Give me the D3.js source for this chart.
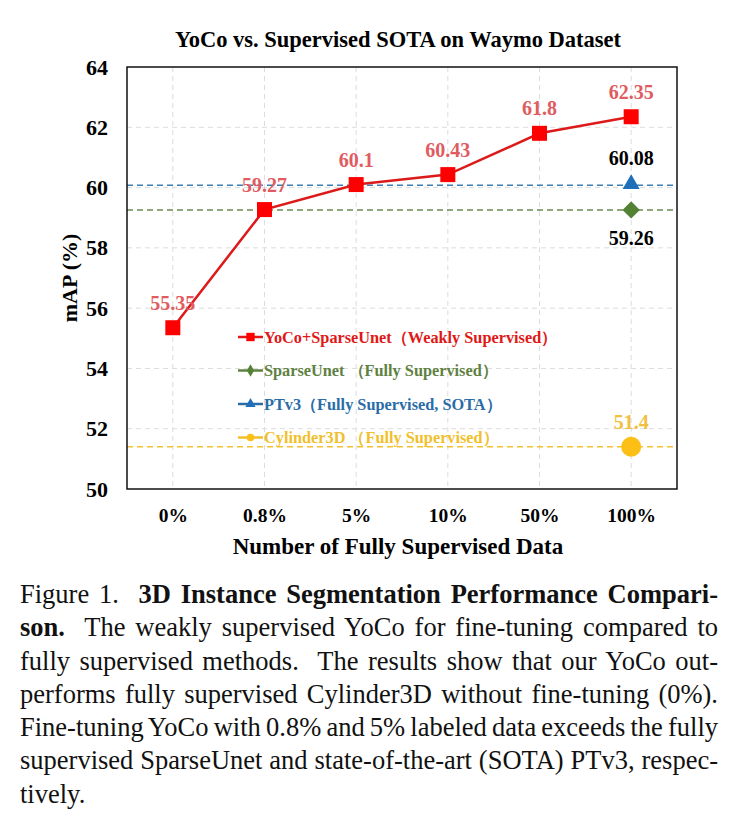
<!DOCTYPE html>
<html>
<head>
<meta charset="utf-8">
<script src="https://cdn.jsdelivr.net/npm/d3@7"></script>
<style>
    body { margin: 0; background: #fff; width: 738px; height: 823px; overflow: hidden; }
    #chart { position: absolute; left: 0; top: 0; }
    #caption { position: absolute; left: 20px; top: 578px; width: 698px; font-size: 26.5px;
               line-height: 33.3px; color: #111; }
    #caption div { white-space: pre; }
</style>
</head>
<body>
<div id="chart"></div>
<div id="caption"></div>
<script>
const categories = ['0%', '0.8%', '5%', '10%', '50%', '100%'];
const yocoValues = [55.35, 59.27, 60.1, 60.43, 61.8, 62.35];
const sparseUnetValue = 59.26;
const ptv3Value = 60.08;
const cylinderValue = 51.4;
const yTicks = [50, 52, 54, 56, 58, 60, 62, 64];
const legendLabels = [
    'YoCo+SparseUnet（Weakly Supervised）',
    'SparseUnet （Fully Supervised）',
    'PTv3（Fully Supervised, SOTA）',
    'Cylinder3D （Fully Supervised）'
];
const captionLines = [
    ['Figure 1.  ', '<b>3D Instance Segmentation Performance Compari-</b>'],
    ['<b>son.</b>', '  The weakly supervised YoCo for fine-tuning compared to'],
    ['fully supervised methods.', '  The results show that our YoCo out-'],
    ['performs fully supervised Cylinder3D without fine-tuning (0%).'],
    ['Fine-tuning YoCo with 0.8% and 5% labeled data exceeds the fully'],
    ['supervised SparseUnet and state-of-the-art (SOTA) PTv3, respec-'],
    ['tively.']
];

const serif = "'Liberation Serif'";
d3.select('body').style('font-family', serif);

let margin = {top: 67, right: 61, bottom: 81, left: 127};
let width = 738 - margin.left - margin.right;
let height = 570 - margin.top - margin.bottom;
let centerX = 398;

let svg = d3.select('#chart').append('svg')
    .attr('width', 738)
    .attr('height', 570)
    .style('font-family', serif);

svg.append('text')
    .attr('x', centerX)
    .attr('y', 47)
    .attr('text-anchor', 'middle')
    .style('font-weight', 'bold')
    .style('font-size', '22.5px')
    .text('YoCo vs. Supervised SOTA on Waymo Dataset');

let g = svg.append('g')
    .attr('transform', 'translate(' + margin.left + ',' + margin.top + ')');

let x = d3.scalePoint().domain(categories).range([0, width]).padding(0.5);
let y = d3.scaleLinear().domain([50, 64]).range([height, 0]);

// grid
g.selectAll('.vgrid').data(categories).enter().append('line')
    .attr('x1', d => x(d)).attr('x2', d => x(d))
    .attr('y1', 0).attr('y2', height)
    .attr('stroke', '#dcdcdc').attr('stroke-dasharray', '5,4');
g.selectAll('.hgrid').data(yTicks.slice(1, -1)).enter().append('line')
    .attr('x1', 0).attr('x2', width)
    .attr('y1', d => y(d)).attr('y2', d => y(d))
    .attr('stroke', '#dcdcdc').attr('stroke-dasharray', '5,4');

// reference lines for fully supervised methods
let refs = [
    {v: ptv3Value, c: '#3d7fb5'},
    {v: sparseUnetValue, c: '#6b8a52'},
    {v: cylinderValue, c: '#f2c232'}
];
g.selectAll('.ref').data(refs).enter().append('line')
    .attr('x1', 0).attr('x2', width)
    .attr('y1', d => y(d.v)).attr('y2', d => y(d.v))
    .attr('stroke', d => d.c).attr('stroke-width', 1.5).attr('stroke-dasharray', '6,4');

// axes
let yAxis = g.append('g')
    .call(d3.axisLeft(y).tickValues(yTicks).tickSize(0).tickPadding(19));
yAxis.attr('font-family', null);
yAxis.select('.domain').remove();
yAxis.selectAll('text').style('font-size', '22px').style('font-weight', 'bold')
    .style('font-family', serif).attr('fill', '#000');

let xAxis = g.append('g')
    .attr('transform', 'translate(0,' + height + ')')
    .call(d3.axisBottom(x).tickSize(0).tickPadding(19.5));
xAxis.attr('font-family', null);
xAxis.select('.domain').remove();
xAxis.selectAll('text').style('font-size', '19.5px').style('font-weight', 'bold')
    .style('font-family', serif).attr('fill', '#000');

// border
g.append('rect')
    .attr('width', width).attr('height', height)
    .attr('fill', 'none').attr('stroke', '#111').attr('stroke-width', 1.5);

// axis titles
svg.append('text')
    .attr('transform', 'translate(77,' + (margin.top + height / 2) + ') rotate(-90)')
    .attr('text-anchor', 'middle')
    .style('font-weight', 'bold').style('font-size', '22px')
    .text('mAP (%)');
svg.append('text')
    .attr('x', centerX)
    .attr('y', 554)
    .attr('text-anchor', 'middle')
    .style('font-weight', 'bold').style('font-size', '23px')
    .text('Number of Fully Supervised Data');

// YoCo line
let line = d3.line()
    .x((d, i) => x(categories[i]))
    .y(d => y(d));
g.append('path')
    .datum(yocoValues)
    .attr('d', line)
    .attr('fill', 'none')
    .attr('stroke', '#dc1a1a')
    .attr('stroke-width', 2.5);
g.selectAll('.sq').data(yocoValues).enter().append('rect')
    .attr('x', (d, i) => x(categories[i]) - 7.5)
    .attr('y', d => y(d) - 7.5)
    .attr('width', 15).attr('height', 15)
    .attr('fill', '#ff0000');
g.selectAll('.lbl').data(yocoValues).enter().append('text')
    .attr('x', (d, i) => x(categories[i]))
    .attr('y', d => y(d) - 18)
    .attr('text-anchor', 'middle')
    .style('font-weight', 'bold').style('font-size', '20px')
    .attr('fill', '#e05c60')
    .text(d => d);

// fully supervised points at 100%
let last = x(categories[categories.length - 1]);
g.append('path')
    .attr('d', d3.symbol().type(d3.symbolTriangle).size(125)())
    .attr('transform', 'translate(' + last + ',' + (y(ptv3Value) - 1) + ')')
    .attr('fill', '#1f6fb8');
g.append('path')
    .attr('d', d3.symbol().type(d3.symbolSquare).size(150)())
    .attr('transform', 'translate(' + last + ',' + y(sparseUnetValue) + ') rotate(45)')
    .attr('fill', '#548235');
g.append('circle')
    .attr('cx', last).attr('cy', y(cylinderValue)).attr('r', 10)
    .attr('fill', '#fcbf16');

g.append('text')
    .attr('x', last).attr('y', y(ptv3Value) - 20)
    .attr('text-anchor', 'middle')
    .style('font-weight', 'bold').style('font-size', '20px')
    .text(ptv3Value.toFixed(2));
g.append('text')
    .attr('x', last).attr('y', y(sparseUnetValue) + 35)
    .attr('text-anchor', 'middle')
    .style('font-weight', 'bold').style('font-size', '20px')
    .text(sparseUnetValue.toFixed(2));
g.append('text')
    .attr('x', last).attr('y', y(cylinderValue) - 18)
    .attr('text-anchor', 'middle')
    .style('font-weight', 'bold').style('font-size', '20px')
    .attr('fill', '#f0c040')
    .text(cylinderValue);

// legend
let legendColors = ['#e01818', '#5f8142', '#2a6ca8', '#f2bf2c'];
let legendMarkers = [d3.symbolSquare, d3.symbolDiamond, d3.symbolTriangle, d3.symbolCircle];
let legendMarkerFill = ['#ff0000', '#548235', '#1f6fb8', '#fcbf16'];
let legend = svg.append('g').attr('transform', 'translate(238,337)');
let items = legend.selectAll('g').data(legendLabels).enter().append('g')
    .attr('transform', (d, i) => 'translate(0,' + (i * 33.5) + ')');
items.append('line')
    .attr('x1', 0).attr('x2', 25)
    .attr('stroke', (d, i) => legendColors[i]).attr('stroke-width', 2.5);
items.append('path')
    .attr('d', (d, i) => d3.symbol().type(legendMarkers[i]).size(i === 0 ? 70 : 45)())
    .attr('transform', 'translate(12.5,0)')
    .attr('fill', (d, i) => legendMarkerFill[i]);
items.append('text')
    .attr('x', 26).attr('dy', '0.35em')
    .style('font-weight', 'bold').style('font-size', '16.3px')
    .attr('fill', (d, i) => legendColors[i])
    .text(d => d);

// caption, justified line by line
let cap = d3.select('#caption').style('font-family', serif);
captionLines.forEach(function(parts, i) {
    let div = cap.append('div');
    let span = div.append('span').html(parts.join(''));
    if (i < captionLines.length - 1) {
        let natural = span.node().getBoundingClientRect().width;
        let spaces = (parts.join('').replace(/<[^>]+>/g, '').match(/ /g) || []).length;
        span.style('word-spacing', ((698 - natural) / spaces) + 'px');
    }
});
</script>
</body>
</html>
